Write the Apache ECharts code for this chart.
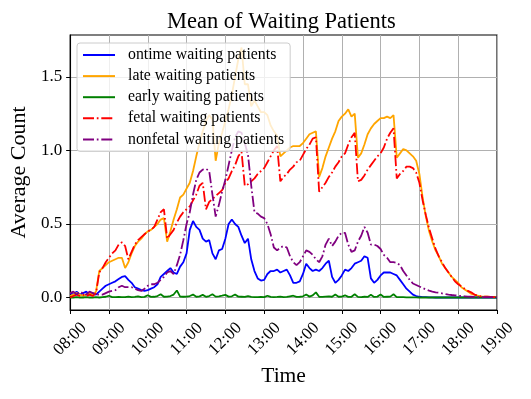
<!DOCTYPE html>
<html>
<head>
<meta charset="utf-8">
<script src="https://cdn.jsdelivr.net/npm/echarts@6/dist/echarts.min.js"></script>
<style>html,body{margin:0;padding:0;background:#fff}#c{width:531px;height:399px}</style>
</head>
<body>
<div id="c"></div>
<script>
// Time grid: 08:00 to 19:00, one value every 5 minutes
const startHour = 8;
const stepMinutes = 5;
const xTickLabels = ['08:00','09:00','10:00','11:00','12:00','13:00','14:00','15:00','16:00','17:00','18:00','19:00'];
const yTickValues = [0, 0.5, 1.0, 1.5];
const seriesNames = ['ontime waiting patients','late waiting patients','early waiting patients','fetal waiting patients','nonfetal waiting patients'];

const ontime = [
  0.03,0.02,0.04,0.02,0.03,0.04,0.02,0.03,0.02,0.04,0.06,0.08,
  0.09,0.10,0.11,0.125,0.14,0.145,0.12,0.10,0.07,0.06,0.05,0.045,
  0.05,0.06,0.07,0.09,0.14,0.16,0.18,0.20,0.17,0.16,0.21,0.24,
  0.30,0.46,0.52,0.48,0.46,0.40,0.38,0.39,0.30,0.26,0.32,0.33,
  0.40,0.50,0.53,0.50,0.48,0.42,0.37,0.40,0.26,0.18,0.13,0.115,
  0.12,0.16,0.18,0.18,0.19,0.17,0.18,0.19,0.15,0.10,0.10,0.11,
  0.16,0.23,0.20,0.18,0.19,0.18,0.20,0.23,0.25,0.14,0.10,0.12,
  0.15,0.19,0.18,0.20,0.23,0.24,0.25,0.28,0.27,0.13,0.10,0.12,
  0.15,0.17,0.17,0.17,0.16,0.15,0.12,0.09,0.06,0.04,0.02,0.01,
  0.005,0.003,0.002,0.001,0.001,0,0,0,0,0,0,0,
  0,0,0,0,0,0,0,0,0,0,0,0,
  0
];
const late = [
  0.01,0.02,0.03,0.02,0.01,0.02,0.03,0.02,0.04,0.18,0.20,0.22,
  0.24,0.25,0.26,0.27,0.27,0.20,0.24,0.30,0.35,0.38,0.40,0.43,
  0.45,0.46,0.48,0.50,0.53,0.54,0.38,0.45,0.53,0.60,0.68,0.70,
  0.74,0.78,0.86,0.96,1.05,1.13,1.20,1.24,1.21,0.93,1.05,1.12,
  1.20,1.28,1.38,1.50,1.62,1.70,1.45,1.45,1.30,1.34,1.30,1.26,
  1.26,1.24,1.17,1.13,1.10,0.96,0.98,1.00,1.02,1.03,1.03,1.03,
  1.05,1.08,1.11,1.12,1.13,0.82,0.88,0.96,1.02,1.08,1.13,1.20,
  1.23,1.25,1.28,1.23,1.25,0.95,0.98,1.04,1.11,1.15,1.18,1.20,
  1.22,1.22,1.23,1.22,1.24,0.95,0.98,1.01,1.00,0.98,0.96,0.93,
  0.84,0.68,0.55,0.45,0.38,0.32,0.28,0.23,0.20,0.17,0.14,0.12,
  0.10,0.07,0.055,0.04,0.025,0.02,0.012,0.008,0.006,0.005,0.004,0.003,
  0.003
];
const early = [
  0,0,0.002,0,0,0.003,0,0,0.002,0,0.003,0.005,
  0.012,0.003,0.002,0.004,0.003,0.002,0.006,0.003,0.004,0.008,0.003,0.004,
  0.015,0.004,0.005,0.01,0.022,0.005,0.006,0.01,0.02,0.048,0.006,0.005,
  0.006,0.01,0.02,0.005,0.008,0.018,0.005,0.01,0.022,0.006,0.008,0.012,
  0.018,0.006,0.008,0.02,0.006,0.005,0.004,0.01,0.004,0.003,0.003,0.004,
  0.003,0.012,0.004,0.003,0.004,0.006,0.003,0.004,0.008,0.012,0.004,0.005,
  0.008,0.02,0.006,0.015,0.035,0.005,0.004,0.006,0.008,0.005,0.02,0.005,
  0.006,0.015,0.004,0.005,0.022,0.004,0.003,0.005,0.004,0.018,0.004,0.006,
  0.02,0.004,0.005,0.006,0.022,0.003,0.002,0.002,0.001,0.001,0.001,0.001,
  0,0,0,0,0,0,0,0,0,0,0,0,
  0,0,0,0,0,0,0,0,0,0,0,0,
  0
];
const fetal = [
  0.00,0.01,0.02,0.01,0.02,0.01,0.02,0.01,0.03,0.17,0.20,0.24,
  0.27,0.30,0.32,0.36,0.375,0.35,0.26,0.31,0.36,0.39,0.41,0.43,
  0.45,0.46,0.48,0.53,0.58,0.60,0.40,0.43,0.46,0.51,0.55,0.58,
  0.60,0.62,0.66,0.70,0.76,0.78,0.60,0.65,0.67,0.69,0.71,0.73,
  0.78,0.81,0.86,0.90,0.96,0.99,0.76,0.77,0.79,0.81,0.84,0.86,
  0.88,0.92,0.96,1.00,1.03,0.79,0.82,0.84,0.87,0.89,0.92,0.93,
  0.97,1.01,1.04,1.08,1.09,0.72,0.75,0.78,0.82,0.85,0.89,0.92,
  0.96,0.98,1.04,1.09,1.12,0.79,0.80,0.83,0.87,0.90,0.93,0.96,
  0.98,1.02,1.08,1.12,1.15,0.81,0.84,0.86,0.89,0.89,0.88,0.85,
  0.78,0.66,0.56,0.47,0.40,0.33,0.28,0.24,0.20,0.17,0.14,0.11,
  0.09,0.075,0.06,0.045,0.035,0.02,0.013,0.008,0.006,0.005,0.004,0.003,
  0.003
];
const nonfetal = [
  0.03,0.04,0.02,0.04,0.03,0.02,0.04,0.03,0.02,0.02,0.02,0.03,
  0.04,0.045,0.05,0.07,0.08,0.07,0.07,0.07,0.06,0.05,0.045,0.06,
  0.08,0.09,0.09,0.10,0.12,0.14,0.17,0.18,0.16,0.22,0.29,0.39,
  0.50,0.58,0.70,0.80,0.85,0.87,0.875,0.86,0.70,0.55,0.63,0.72,
  0.80,0.90,1.00,1.09,1.13,1.12,1.05,0.97,0.76,0.58,0.57,0.55,
  0.54,0.50,0.43,0.34,0.32,0.34,0.35,0.34,0.28,0.24,0.22,0.24,
  0.28,0.32,0.31,0.29,0.26,0.24,0.28,0.36,0.40,0.35,0.38,0.42,
  0.44,0.44,0.36,0.31,0.32,0.38,0.42,0.48,0.44,0.36,0.36,0.35,
  0.33,0.29,0.27,0.24,0.24,0.235,0.22,0.18,0.15,0.12,0.095,0.085,
  0.075,0.065,0.055,0.047,0.04,0.035,0.032,0.028,0.024,0.02,0.017,0.015,
  0.012,0.01,0.008,0.006,0.005,0.004,0.003,0.003,0.002,0.002,0.002,0.002,
  0.002
];

const minutes = ontime.map((_, i) => i * stepMinutes);
const pairs = vals => vals.map((v, i) => [minutes[i], v]);

const FONT = 'Liberation Serif';
const dashDot = [11, 2.8, 1.7, 2.8];
function lineSeries(name, vals, color, dashed) {
  return {
    name, type: 'line', data: pairs(vals), symbol: 'none', showSymbol: false,
    animation: false,
    lineStyle: { color, width: 1.8, type: dashed ? dashDot : 'solid' },
    itemStyle: { color }
  };
}

const chart = echarts.init(document.getElementById('c'), null, { renderer: 'canvas' });
chart.setOption({
  animation: false,
  backgroundColor: '#fff',
  title: {
    text: 'Mean of Waiting Patients', left: 162, top: 6,
    textStyle: { fontFamily: FONT, fontSize: 22.5, fontWeight: 'normal', color: '#000' }
  },
  grid: { left: 69, right: 34, top: 35, bottom: 89, show: true, borderColor: '#000', borderWidth: 1.1, containLabel: false },
  legend: {
    orient: 'vertical', left: 77, top: 43,
    padding: [4, 6, 4, 5], itemWidth: 32, itemHeight: 12, itemGap: 5.1,
    backgroundColor: 'rgba(255,255,255,0.8)', borderColor: '#cccccc', borderWidth: 1, borderRadius: 3,
    itemStyle: { opacity: 0 },
    textStyle: { fontFamily: FONT, fontSize: 15.8, color: '#000', padding: [0, 0, 0, 8] },
    data: seriesNames
  },
  xAxis: {
    type: 'value', min: 0, max: 660, interval: 60,
    name: 'Time', nameLocation: 'middle', nameGap: 54,
    nameTextStyle: { fontFamily: FONT, fontSize: 21.5, color: '#000' },
    axisLine: { show: true, onZero: false, lineStyle: { color: '#000', width: 1.1 } },
    axisTick: { show: true, inside: false, length: 4, lineStyle: { color: '#000', width: 1 } },
    axisLabel: {
      formatter: v => xTickLabels[Math.round(v / 60)],
      rotate: 45, align: 'center', verticalAlign: 'middle', margin: 29,
      fontFamily: FONT, fontSize: 17, color: '#000'
    },
    splitLine: { show: true, lineStyle: { color: '#b0b0b0', width: 1 } }
  },
  yAxis: {
    type: 'value', min: -0.085, max: 1.785,
    name: 'Average Count', nameLocation: 'middle', nameGap: 37, nameRotate: 90,
    nameTextStyle: { fontFamily: FONT, fontSize: 22, color: '#000' },
    axisLine: { show: true, lineStyle: { color: '#000', width: 1.1 } },
    axisTick: { show: true, inside: false, length: 4, lineStyle: { color: '#000', width: 1 }, customValues: yTickValues },
    axisLabel: {
      customValues: yTickValues, formatter: v => Number(v).toFixed(1),
      margin: 8, fontFamily: FONT, fontSize: 17, color: '#000'
    },
    splitLine: { show: true, lineStyle: { color: '#b0b0b0', width: 1 } }
  },
  series: [
    lineSeries(seriesNames[0], ontime, '#0000ff', false),
    lineSeries(seriesNames[1], late, '#ffa500', false),
    lineSeries(seriesNames[2], early, '#008000', false),
    lineSeries(seriesNames[3], fetal, '#ff0000', true),
    lineSeries(seriesNames[4], nonfetal, '#800080', true)
  ]
});
</script>
</body>
</html>
